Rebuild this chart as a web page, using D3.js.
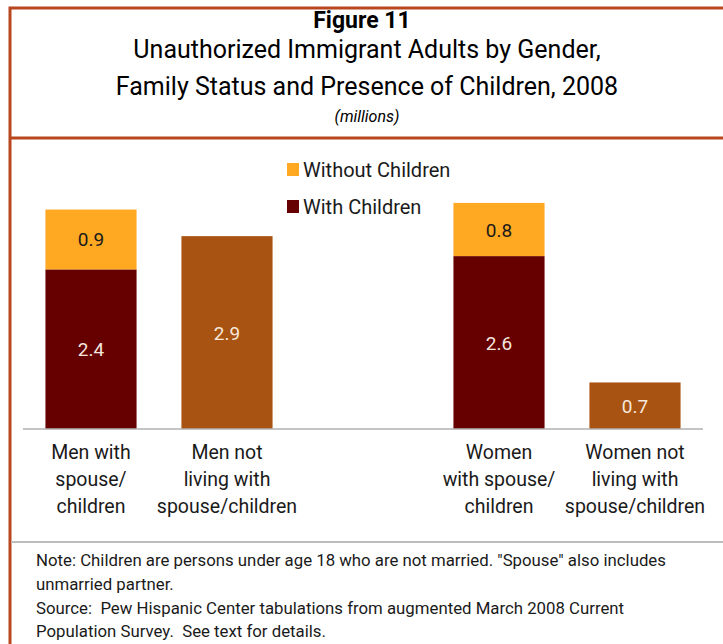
<!DOCTYPE html>
<html>
<head>
<meta charset="utf-8">
<script src="https://cdn.jsdelivr.net/npm/d3@7"></script>
<style>
  body { margin: 0; background: #fff; }
  svg { display: block; font-family: Roboto, "Open Sans", sans-serif; }
</style>
</head>
<body>
<svg width="723" height="644"></svg>
<script>
// data
const categories = [
    'Men with spouse/children',
    'Men not living with spouse/children',
    'Women with spouse/children',
    'Women not living with spouse/children'
];
const categoryLines = [
    ['Men with', 'spouse/', 'children'],
    ['Men not', 'living with', 'spouse/children'],
    ['Women', 'with spouse/', 'children'],
    ['Women not', 'living with', 'spouse/children']
];
const withChildren = [2.4, null, 2.6, null];
const withoutChildren = [0.9, null, 0.8, null];
const notLivingWith = [null, 2.9, null, 0.7];

const seriesNames = ['Without Children', 'With Children'];
const colors = { without: '#FFA822', with: '#660000', notLiving: '#A85311' };

const svg = d3.select('svg');
const width = 723;

// frame lines
const border = '#B8461E';
svg.append('rect').attr('x', 10).attr('y', 8).attr('width', 730).attr('height', 660)
    .attr('fill', 'none').attr('stroke', border).attr('stroke-width', 3);
svg.append('line').attr('x1', 10).attr('x2', width).attr('y1', 138).attr('y2', 138)
    .attr('stroke', border).attr('stroke-width', 3);
svg.append('line').attr('x1', 11).attr('x2', width).attr('y1', 542).attr('y2', 542)
    .attr('stroke', '#bdbdbd').attr('stroke-width', 2);

// titles
svg.append('text').attr('x', 362).attr('y', 28).attr('text-anchor', 'middle')
    .attr('font-size', 23).attr('font-weight', 'bold').text('Figure 11');
svg.append('text').attr('x', 367).attr('y', 58).attr('text-anchor', 'middle')
    .attr('font-size', 25).text('Unauthorized Immigrant Adults by Gender,');
svg.append('text').attr('x', 367).attr('y', 95).attr('text-anchor', 'middle')
    .attr('font-size', 25).text('Family Status and Presence of Children, 2008');
svg.append('text').attr('x', 367).attr('y', 122).attr('text-anchor', 'middle')
    .attr('font-size', 16).attr('font-style', 'italic').text('(millions)');

// scales (one empty slot between the men and women groups)
const domain = [categories[0], categories[1], '__gap__', categories[2], categories[3]];
const xScale = d3.scaleBand()
    .domain(domain)
    .range([23, 703])
    .paddingInner(0.33)
    .paddingOuter(0.165);

const yScale = d3.scaleLinear()
    .domain([0, 4])
    .range([429, 163]);

const chart = svg.append('g');

categories.forEach((c, i) => {
    const x = xScale(c);
    const bw = xScale.bandwidth();
    const segs = [];
    if (withChildren[i] != null) {
        segs.push({ y0: 0, y1: withChildren[i], v: withChildren[i], fill: colors.with, tc: '#f3e6df' });
        segs.push({ y0: withChildren[i], y1: withChildren[i] + withoutChildren[i], v: withoutChildren[i], fill: colors.without, tc: '#1a1a1a' });
    }
    if (notLivingWith[i] != null) {
        segs.push({ y0: 0, y1: notLivingWith[i], v: notLivingWith[i], fill: colors.notLiving, tc: '#f6e8dc' });
    }
    segs.forEach(s => {
        chart.append('rect')
            .attr('x', x).attr('width', bw)
            .attr('y', yScale(s.y1))
            .attr('height', yScale(s.y0) - yScale(s.y1))
            .attr('fill', s.fill);
        chart.append('text')
            .attr('x', x + bw / 2)
            .attr('y', (yScale(s.y0) + yScale(s.y1)) / 2 + 7)
            .attr('text-anchor', 'middle')
            .attr('font-size', 19)
            .attr('fill', s.tc)
            .text(s.v.toFixed(1));
    });
    // category label
    const t = chart.append('text')
        .attr('text-anchor', 'middle')
        .attr('font-size', 19.5)
        .attr('fill', '#1a1a1a');
    categoryLines[i].forEach((ln, j) => {
        t.append('tspan').attr('x', x + bw / 2).attr('y', 459 + j * 27).text(ln);
    });
});

// axis baseline
chart.append('line')
    .attr('x1', 23).attr('x2', 703)
    .attr('y1', yScale(0)).attr('y2', yScale(0))
    .attr('stroke', '#b0b0b0').attr('stroke-width', 1.5);

// legend
const legend = svg.append('g');
seriesNames.forEach((name, i) => {
    const y = 163 + i * 37;
    legend.append('rect').attr('x', 287).attr('y', y).attr('width', 12).attr('height', 13)
        .attr('fill', i === 0 ? colors.without : colors.with);
    legend.append('text').attr('x', 303).attr('y', y + 14)
        .attr('font-size', 20).attr('fill', '#1a1a1a').text(name);
});

// notes
const notes = [
    'Note: Children are persons under age 18 who are not married. "Spouse" also includes',
    'unmarried partner.',
    'Source:  Pew Hispanic Center tabulations from augmented March 2008 Current',
    'Population Survey.  See text for details.'
];
notes.forEach((n, i) => {
    svg.append('text').attr('x', 36).attr('y', 566 + i * 23.8)
        .attr('font-size', 16.8).attr('fill', '#1a1a1a')
        .attr('xml:space', 'preserve')
        .style('white-space', 'pre')
        .text(n);
});
</script>
</body>
</html>
